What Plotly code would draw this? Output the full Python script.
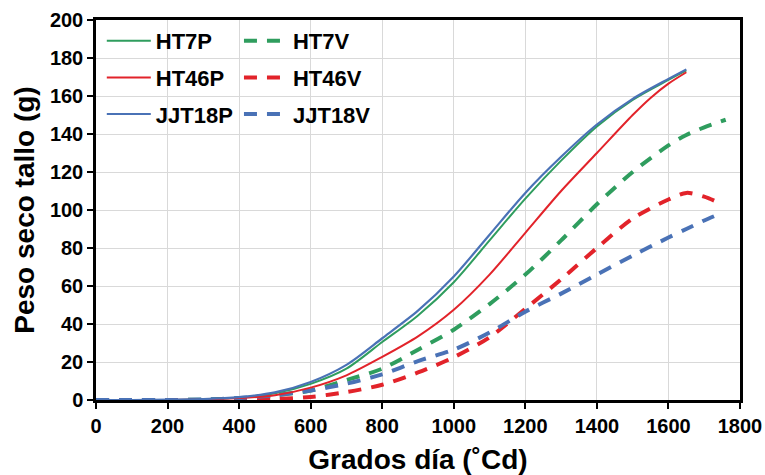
import plotly.graph_objects as go

# Thermal time (degree-days) at which stem dry weight was evaluated
gd_p = [0, 100, 200, 300, 400, 500, 600, 700, 800, 900, 1000, 1100, 1200, 1300, 1400, 1500, 1600, 1650]
gd_46p = [0, 100, 200, 300, 400, 500, 600, 700, 800, 900, 1000, 1100, 1200, 1300, 1400, 1500, 1550, 1600, 1650]
gd_v = [0, 100, 200, 300, 400, 500, 600, 700, 800, 900, 1000, 1100, 1200, 1300, 1400, 1500, 1600, 1650, 1700, 1750]
gd_ht7v = [0, 100, 200, 300, 400, 500, 600, 700, 800, 900, 1000, 1100, 1200, 1300, 1400, 1500, 1600, 1650, 1700, 1760]

# Stem dry weight (g)
ht7p = [0, 0, 0, 0.4, 1.3, 3.5, 8.5, 16.5, 30.5, 44.5, 62, 84, 106, 126, 144, 158, 168.5, 173.5]
ht46p = [0, 0, 0, 0.3, 1.0, 2.5, 6.5, 13, 22.7, 33.5, 47.5, 66, 88, 110, 130, 150, 159, 166.5, 172.5]
jjt18p = [0, 0, 0.2, 0.5, 1.5, 4, 9.5, 18.5, 32.5, 47, 65, 87, 109, 128, 145, 158.5, 169, 174]
ht7v = [0, 0, 0, 0.2, 0.8, 2.5, 5, 10.5, 16.5, 26.5, 37, 50.5, 66, 84, 103, 120, 134, 139.5, 143.5, 147.5]
ht46v = [0, 0, 0, 0, 0, 0.5, 1.6, 4.2, 8, 14.5, 22.5, 33, 48, 63.5, 80, 95.5, 105.5, 109, 107, 103]
jjt18v = [0, 0, 0, 0.3, 1.0, 2.5, 5, 8.6, 13.5, 20.5, 26.5, 35.5, 46.5, 56, 66, 76, 85.5, 90, 94.5, 98.5]

GREEN = "#2f9d5e"
RED = "#e2232a"
BLUE = "#4a72b6"

FONT = "Liberation Sans, Arial, sans-serif"

fig = go.Figure()

def add(x, y, name, color, width, dash, legend):
    fig.add_trace(go.Scatter(
        x=x, y=y, name=name, mode="lines",
        line=dict(color=color, width=width, dash=dash, shape="spline", smoothing=0.8),
        legend=legend, legendgroup=name,
    ))

# dashed series drawn first so solid curves sit on top
add(gd_ht7v, ht7v, "HT7V", GREEN, 4, "13px,10px", "legend2")
add(gd_v, ht46v, "HT46V", RED, 4, "13px,10px", "legend2")
add(gd_v, jjt18v, "JJT18V", BLUE, 4, "13px,10px", "legend2")
add(gd_p, ht7p, "HT7P", GREEN, 2, "solid", "legend")
add(gd_46p, ht46p, "HT46P", RED, 2, "solid", "legend")
add(gd_p, jjt18p, "JJT18P", BLUE, 2.2, "solid", "legend")

legend_common = dict(
    bgcolor="rgba(0,0,0,0)",
    font=dict(family=FONT, size=22, color="black", weight="bold"),
    itemwidth=44,
    tracegroupgap=5,
    traceorder="grouped",
    yanchor="top",
    xanchor="left",
    y=1.0,
)

fig.update_layout(
    width=765, height=475,
    margin=dict(l=96, r=25, t=20, b=75, autoexpand=False),
    paper_bgcolor="white",
    plot_bgcolor="white",
    font=dict(family=FONT, color="black"),
    legend=dict(x=0.009, **legend_common),
    legend2=dict(x=0.222, **legend_common),
    xaxis=dict(
        range=[0, 1800], dtick=200, tick0=0, automargin=False,
        showgrid=True, gridcolor="#d9d9d9", gridwidth=1,
        showline=True, linecolor="black", linewidth=2.5, mirror=True,
        ticks="outside", ticklen=6, tickwidth=2, tickcolor="black",
        tickfont=dict(family=FONT, size=20, color="black", weight="bold"),
        title=dict(text="Grados día (˚Cd)", standoff=15,
                   font=dict(family=FONT, size=28, color="black", weight="bold")),
        zeroline=False,
    ),
    yaxis=dict(
        range=[0, 200], dtick=20, tick0=0, automargin=False,
        showgrid=True, gridcolor="#d9d9d9", gridwidth=1,
        showline=True, linecolor="black", linewidth=2.5, mirror=True,
        ticks="outside", ticklen=6, tickwidth=2, tickcolor="black",
        tickfont=dict(family=FONT, size=20, color="black", weight="bold"),
        title=dict(text="Peso seco tallo (g)", standoff=8,
                   font=dict(family=FONT, size=28, color="black", weight="bold")),
        zeroline=False,
    ),
)

fig.write_html("out.html")
